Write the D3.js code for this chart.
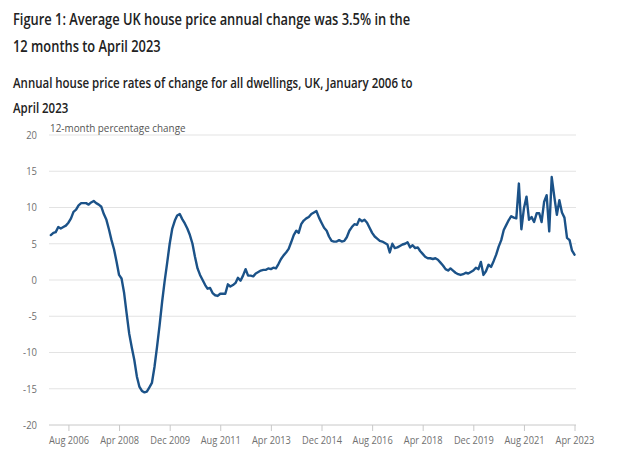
<!DOCTYPE html>
<html>
<head>
<meta charset="utf-8">
<script src="https://cdn.jsdelivr.net/npm/d3@7"></script>
<style>
  html, body { margin: 0; padding: 0; background: #fff; }
  svg { display: block; font-family: "Open Sans", sans-serif; }
</style>
</head>
<body>
<svg id="chart" width="634" height="467"></svg>
<script>
// ---- Data ----
const startYear = 2006;
const startMonth = 0; // January
const values = [
  // 2006
  6.2, 6.5, 6.6, 7.3, 7.1, 7.3, 7.5, 7.9, 8.5, 9.4, 9.7, 10.3,
  // 2007
  10.6, 10.6, 10.6, 10.4, 10.7, 10.9, 10.6, 10.4, 10.1, 9.1, 8.3, 7.0,
  // 2008
  5.5, 4.2, 2.6, 0.7, 0.2, -1.8, -4.6, -7.4, -9.3, -11.0, -13.3, -14.7,
  // 2009
  -15.3, -15.5, -15.4, -14.8, -14.2, -12.0, -9.3, -6.3, -3.0, -0.2, 2.4, 5.0,
  // 2010
  7.1, 8.2, 8.9, 9.1, 8.4, 7.8, 7.1, 6.2, 5.0, 3.2, 1.6, 0.7,
  // 2011
  0.0, -0.7, -1.2, -1.1, -1.8, -2.1, -2.2, -1.9, -1.9, -1.9, -0.6, -0.9,
  // 2012
  -0.7, -0.4, 0.3, -0.1, 0.6, 1.5, 0.6, 0.6, 0.5, 0.9, 1.1, 1.3,
  // 2013
  1.4, 1.4, 1.6, 1.5, 1.7, 1.6, 2.2, 2.9, 3.4, 3.8, 4.3, 5.2,
  // 2014
  6.2, 6.8, 6.5, 7.7, 8.2, 8.5, 8.7, 9.1, 9.3, 9.5, 8.6, 7.9,
  // 2015
  7.2, 6.8, 6.0, 5.4, 5.3, 5.3, 5.5, 5.3, 5.4, 5.9, 6.8, 7.3,
  // 2016
  7.7, 7.6, 8.4, 8.1, 8.3, 7.9, 7.2, 6.5, 6.0, 5.7, 5.4, 5.3,
  // 2017
  5.1, 4.9, 3.8, 5.0, 4.4, 4.5, 4.7, 4.9, 5.0, 5.2, 4.5, 4.8,
  // 2018
  4.4, 4.5, 4.0, 3.6, 3.2, 3.0, 3.0, 2.9, 3.0, 2.8, 2.4, 2.0,
  // 2019
  1.5, 1.3, 1.6, 1.3, 1.0, 0.8, 0.7, 0.8, 1.0, 0.9, 1.1, 1.3,
  // 2020
  1.7, 1.5, 2.5, 0.7, 1.2, 2.1, 1.8, 2.6, 3.5, 4.6, 5.5, 6.9,
  // 2021
  7.6, 8.3, 8.8, 8.6, 8.5, 13.3, 7.0, 9.9, 11.5, 8.3, 8.7, 8.0,
  // 2022
  9.2, 9.2, 8.0, 10.8, 11.7, 6.7, 14.2, 11.5, 9.0, 11.0, 9.3, 8.6,
  // 2023
  5.8, 5.5, 4.1, 3.5
];
const xTickLabels = ["Aug 2006", "Apr 2008", "Dec 2009", "Aug 2011", "Apr 2013", "Dec 2014", "Aug 2016", "Apr 2018", "Dec 2019", "Aug 2021", "Apr 2023"];
const yTicks = [-20, -15, -10, -5, 0, 5, 10, 15, 20];
const titleLines = ["Figure 1: Average UK house price annual change was 3.5% in the", "12 months to April 2023"];
const subtitleLines = ["Annual house price rates of change for all dwellings, UK, January 2006 to", "April 2023"];
const yAxisTitle = "12-month percentage change";

// ---- Build ----
const parseLabel = d3.timeParse("%b %Y");
const data = values.map((v, i) => ({ date: new Date(startYear, startMonth + i, 1), value: v }));
const tickDates = xTickLabels.map(parseLabel);

const svg = d3.select("#chart");

// The reference rendering is horizontally narrowed; squeeze text widths to match
function squeeze(sel, k) {
  sel.each(function () {
    const w = this.getComputedTextLength();
    this.setAttribute("textLength", (w * k).toFixed(1));
    this.setAttribute("lengthAdjust", "spacingAndGlyphs");
  });
}

const x = d3.scaleTime()
  .domain([data[0].date, data[data.length - 1].date])
  .range([50.8, 574.5]);
const y = d3.scaleLinear().domain([-20, 20]).range([425, 135]);

const gridLeft = 49, gridRight = 576;

// titles
const t1 = svg.append("g").selectAll("text").data(titleLines).join("text")
  .attr("x", 13).attr("y", (d, i) => 25 + i * 27)
  .attr("font-size", 16.5).attr("font-weight", 600).attr("fill", "#222")
  .text(d => d);
squeeze(t1, 0.78);
const t2 = svg.append("g").selectAll("text").data(subtitleLines).join("text")
  .attr("x", 13).attr("y", (d, i) => 88 + i * 25)
  .attr("font-size", 14).attr("font-weight", 600).attr("fill", "#222")
  .text(d => d);
squeeze(t2, 0.82);

// gridlines
svg.append("g").selectAll("line").data(yTicks.filter(d => d !== -20)).join("line")
  .attr("x1", gridLeft).attr("x2", gridRight)
  .attr("y1", d => y(d)).attr("y2", d => y(d))
  .attr("stroke", "#e3e3e3").attr("stroke-width", 1);

// y labels
const yl = svg.append("g").selectAll("text").data(yTicks).join("text")
  .attr("x", 37).attr("y", d => y(d)).attr("dy", "0.35em")
  .attr("text-anchor", "end").attr("font-size", 11).attr("fill", "#707070")
  .text(d => d);
squeeze(yl, 0.86);

// y axis title
const yt = svg.append("text").attr("x", 50).attr("y", 131.5)
  .attr("font-size", 11.5).attr("fill", "#555")
  .text(yAxisTitle);
squeeze(yt, 0.86);

// x axis
const xAxis = d3.axisBottom(x)
  .tickValues(tickDates)
  .tickFormat(d3.timeFormat("%b %Y"))
  .tickSize(6).tickSizeOuter(0);
const gx = svg.append("g").attr("transform", `translate(0,${y(-20)})`).call(xAxis);
gx.select(".domain").remove();
gx.append("line").attr("x1", gridLeft).attr("x2", gridRight).attr("y1", 0).attr("y2", 0)
  .attr("stroke", "#c8c8c8").attr("stroke-width", 1);
gx.selectAll(".tick line").attr("stroke", "#c8c8c8");
const xl = gx.selectAll(".tick text").attr("font-size", 11).attr("fill", "#707070")
  .attr("font-family", "Open Sans, sans-serif").attr("dy", "0.9em");
squeeze(xl, 0.84);

// line
const line = d3.line().x(d => x(d.date)).y(d => y(d.value)).curve(d3.curveLinear);
svg.append("path").datum(data)
  .attr("d", line)
  .attr("fill", "none")
  .attr("stroke", "#1b5288")
  .attr("stroke-width", 2.4)
  .attr("stroke-linejoin", "round")
  .attr("stroke-linecap", "round");
</script>
</body>
</html>
